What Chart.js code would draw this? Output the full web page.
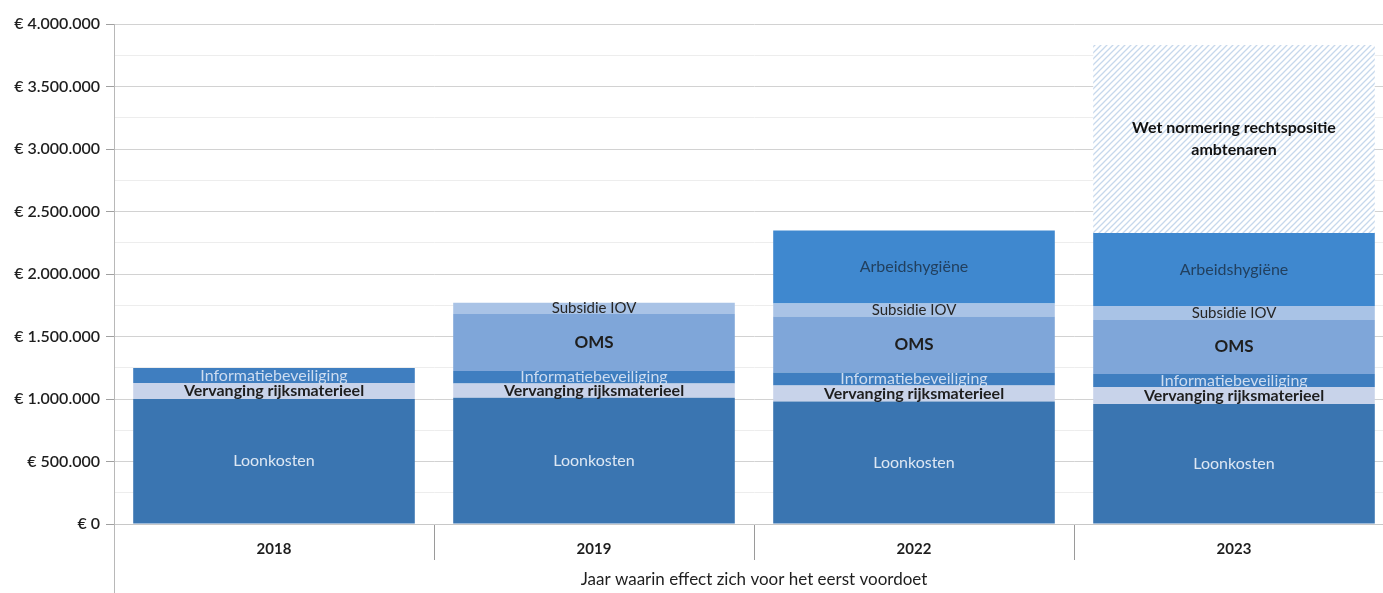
<!DOCTYPE html>
<html>
<head>
<meta charset="utf-8">
<script src="https://cdn.jsdelivr.net/npm/chart.js@4.4.1/dist/chart.umd.min.js"></script>
<style>
  html, body { margin: 0; padding: 0; background: #fff; overflow: hidden; }
  #wrap { width: 1383px; height: 593px; overflow: hidden; }
</style>
</head>
<body>
<div id="wrap"><canvas id="costChart" width="1400" height="593"></canvas></div>
<script>
// Jaren (categorieën)
const years = ["2018", "2019", "2022", "2023"];

// Bedragen per component, in euro's
const loonkosten = [1000000, 1010000, 980000, 960000];
const vervanging = [128000, 115000, 128000, 136000];
const informatie = [120000, 100000, 104000, 104000];
const oms = [0, 455000, 448000, 432000];
const subsidie = [0, 90000, 104000, 112000];
const arbeid = [0, 0, 584000, 584000];
const wetNormering = [0, 0, 0, 1504000];

const seriesNames = [
  "Loonkosten",
  "Vervanging rijksmaterieel",
  "Informatiebeveiliging",
  "OMS",
  "Subsidie IOV",
  "Arbeidshygiëne",
  "Wet normering rechtspositie ambtenaren",
];

const yMax = 4000000;
const yStep = 250000;
const xTitle = "Jaar waarin effect zich voor het eerst voordoet";

const FONT = "Lato, 'Open Sans', sans-serif";

// diagonal hatch for the not-yet-certain part
function hatchPattern(color) {
  const size = 6;
  const c = document.createElement("canvas");
  c.width = size;
  c.height = size;
  const g = c.getContext("2d");
  g.fillStyle = "#ffffff";
  g.fillRect(0, 0, size, size);
  g.strokeStyle = color;
  g.lineWidth = 1.3;
  g.beginPath();
  g.moveTo(0, size);
  g.lineTo(size, 0);
  g.moveTo(-size / 2, size / 2);
  g.lineTo(size / 2, -size / 2);
  g.moveTo(size / 2, size * 1.5);
  g.lineTo(size * 1.5, size / 2);
  g.stroke();
  return g.createPattern(c, "repeat");
}

const colors = [
  "#3a75b1",
  "#c8d3ea",
  "#3f7ec0",
  "#7fa6d9",
  "#a9c3e6",
  "#3f88cf",
  hatchPattern("#c6d8ec"),
];

// text style per segment label
const labelStyles = [
  { font: "16px " + FONT, color: "#dde7f3" },
  { font: "bold 16px " + FONT, color: "#1e1e1e" },
  { font: "16px " + FONT, color: "#cddcf0" },
  { font: "bold 17px " + FONT, color: "#1e1e1e" },
  { font: "15px " + FONT, color: "#262626" },
  { font: "16px " + FONT, color: "#22405f" },
  { font: "bold 16px " + FONT, color: "#111111" },
];

function euro(v) {
  return "€ " + String(v).replace(/\B(?=(\d{3})+(?!\d))/g, ".");
}

function wrapText(ctx, text, maxWidth) {
  const words = text.split(" ");
  const lines = [];
  let line = "";
  words.forEach((w) => {
    const test = line ? line + " " + w : w;
    if (ctx.measureText(test).width > maxWidth && line) {
      lines.push(line);
      line = w;
    } else {
      line = test;
    }
  });
  lines.push(line);
  return lines;
}

/**
 * Draws the series name in the middle of every stacked segment
 */
const segmentLabels = {
  id: "segmentLabels",
  afterDatasetsDraw(chart) {
    const ctx = chart.ctx;
    ctx.save();
    ctx.textAlign = "center";
    ctx.textBaseline = "middle";
    chart.data.datasets.forEach((ds, i) => {
      const meta = chart.getDatasetMeta(i);
      const st = labelStyles[i];
      meta.data.forEach((bar, j) => {
        if (!ds.data[j]) return;
        const p = bar.getProps(["x", "y", "base", "width"], true);
        ctx.font = st.font;
        ctx.fillStyle = st.color;
        const lines = wrapText(ctx, ds.label, p.width * 0.85);
        const lh = 22;
        const cy = (p.y + p.base) / 2 - ((lines.length - 1) * lh) / 2;
        lines.forEach((l, k) => ctx.fillText(l, p.x, cy + k * lh));
      });
    });
    ctx.restore();
  },
  afterDraw(chart) {
    // left axis line runs on down to the bottom edge, like in the original
    const ctx = chart.ctx;
    const x = chart.chartArea.left;
    ctx.save();
    ctx.strokeStyle = "#b8b8b8";
    ctx.lineWidth = 1;
    ctx.beginPath();
    ctx.moveTo(x + 0.5, chart.chartArea.bottom);
    ctx.lineTo(x + 0.5, chart.height);
    ctx.stroke();
    ctx.restore();
  },
};

const seriesData = [loonkosten, vervanging, informatie, oms, subsidie, arbeid, wetNormering];

new Chart(document.getElementById("costChart"), {
  type: "bar",
  data: {
    labels: years,
    datasets: seriesData.map((d, i) => ({
      label: seriesNames[i],
      data: d,
      backgroundColor: colors[i],
      borderWidth: 0,
      barPercentage: 0.88,
      categoryPercentage: 1.0,
    })),
  },
  plugins: [segmentLabels],
  options: {
    responsive: false,
    animation: false,
    devicePixelRatio: 1,
    layout: { padding: { top: 24, right: 6, left: 0, bottom: 0 } },
    plugins: {
      legend: { display: false },
      tooltip: { enabled: false },
    },
    scales: {
      x: {
        stacked: true,
        afterFit: (s) => { s.height = 69; },
        border: { display: true, color: "#c8c8c8" },
        grid: {
          offset: true,
          drawOnChartArea: false,
          tickLength: 36,
          color: "#9a9a9a",
        },
        ticks: {
          padding: -20,
          color: "#1e1e1e",
          font: { family: FONT, size: 15, weight: "bold" },
        },
        title: {
          display: true,
          text: xTitle,
          color: "#1e1e1e",
          padding: { top: 0, bottom: 3 },
          font: { family: FONT, size: 17 },
        },
      },
      y: {
        stacked: true,
        min: 0,
        max: yMax,
        afterFit: (s) => { s.width = 114; },
        border: { display: true, color: "#b8b8b8" },
        grid: {
          tickLength: 8,
          color: (c) => (c.tick && c.tick.value % 500000 === 0 ? "#d2d2d2" : "#ededed"),
          tickColor: (c) => (c.tick && c.tick.value % 500000 === 0 ? "#a0a0a0" : "rgba(0,0,0,0)"),
        },
        ticks: {
          stepSize: yStep,
          autoSkip: false,
          padding: 6,
          color: "#1e1e1e",
          font: { family: FONT, size: 16, weight: "600" },
          callback: (v) => (v % 500000 === 0 ? euro(v) : ""),
        },
      },
    },
  },
});
</script>
</body>
</html>
